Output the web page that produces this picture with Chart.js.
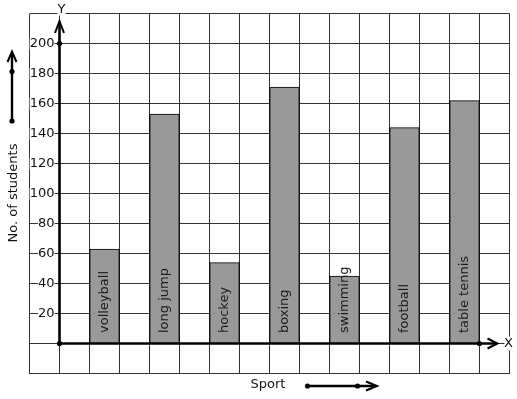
<!DOCTYPE html>
<html><head><meta charset="utf-8">
<script src="https://cdn.jsdelivr.net/npm/chart.js@4/dist/chart.umd.min.js"></script>
<style>html,body{margin:0;padding:0;background:#fff}#wrap{width:517px;height:399px;position:relative}</style>
</head><body><div id="wrap"><canvas id="c"></canvas></div>
<script>
const categories = ['volleyball', 'long jump', 'hockey', 'boxing', 'swimming', 'football', 'table tennis'];
const students = [63, 153, 54, 171, 45, 144, 162];
const yTickLabels = ['20', '40', '60', '80', '100', '120', '140', '160', '180', '200'];
const xAxisTitle = 'Sport';
const yAxisTitle = 'No. of students';
const xAxisName = 'X';
const yAxisName = 'Y';

const FONT = '13px "DejaVu Sans"';
Chart.defaults.font.family = '"DejaVu Sans"';

function labelWithBackdrop(ctx, text, x, y, align) {
  ctx.textAlign = align;
  ctx.textBaseline = 'middle';
  const w = ctx.measureText(text).width;
  let left = align === 'right' ? x - w : (align === 'center' ? x - w / 2 : x);
  ctx.fillStyle = '#fff';
  ctx.fillRect(left, y - 6, w, 12);
  ctx.fillStyle = '#111';
  ctx.fillText(text, x, y);
}

function dot(ctx, x, y) {
  ctx.beginPath(); ctx.arc(x, y, 2.6, 0, Math.PI * 2); ctx.fillStyle = '#000'; ctx.fill();
}

const decor = {
  id: 'decor',
  afterDatasetsDraw(chart) {
    const { ctx, scales: { x, y } } = chart;
    const x0 = x.getPixelForValue(0), y0 = y.getPixelForValue(0);
    ctx.save();
    ctx.font = FONT;
    // labels inside bars
    const meta = chart.getDatasetMeta(0);
    meta.data.forEach((bar, i) => {
      ctx.save();
      ctx.translate(bar.x, bar.base - 10);
      ctx.rotate(-Math.PI / 2);
      ctx.textAlign = 'left';
      ctx.textBaseline = 'middle';
      ctx.fillStyle = '#1a1a1a';
      ctx.fillText(categories[i], 0, 0);
      ctx.restore();
    });
    // y tick labels
    yTickLabels.forEach(t => {
      labelWithBackdrop(ctx, t, x0 - 5, y.getPixelForValue(Number(t)) + 0.5, 'right');
    });
    // axes lines
    const yTop = y.getPixelForValue(215);
    const xEnd = x.getPixelForValue(14.6);
    ctx.strokeStyle = '#000';
    ctx.lineWidth = 2.6;
    ctx.beginPath(); ctx.moveTo(x0, y0); ctx.lineTo(x0, yTop + 2); ctx.stroke();
    ctx.beginPath(); ctx.moveTo(x0, y0); ctx.lineTo(xEnd - 1, y0); ctx.stroke();
    ctx.lineWidth = 2;
    ctx.beginPath(); ctx.moveTo(x0 - 4.5, yTop + 12); ctx.lineTo(x0, yTop); ctx.lineTo(x0 + 4.5, yTop + 12); ctx.stroke();
    ctx.beginPath(); ctx.moveTo(xEnd - 10, y0 - 5); ctx.lineTo(xEnd, y0); ctx.lineTo(xEnd - 10, y0 + 5); ctx.stroke();
    dot(ctx, x0, y0);
    dot(ctx, x0, y.getPixelForValue(200));
    dot(ctx, x.getPixelForValue(14), y0);
    // axis names
    labelWithBackdrop(ctx, yAxisName, x0 + 2, 9.5, 'center');
    ctx.fillStyle = '#fff';
    ctx.fillRect(x.getPixelForValue(15) - 5, y0 - 7, 10, 14);
    ctx.fillStyle = '#111';
    ctx.textAlign = 'center'; ctx.textBaseline = 'middle';
    ctx.fillText(xAxisName, x.getPixelForValue(15) - 1, y0);
    // titles
    ctx.save();
    ctx.translate(17, 193);
    ctx.rotate(-Math.PI / 2);
    ctx.textAlign = 'center'; ctx.textBaseline = 'alphabetic';
    ctx.fillStyle = '#111';
    ctx.fillText(yAxisTitle, 0, 0);
    ctx.restore();
    ctx.textAlign = 'center'; ctx.textBaseline = 'middle';
    ctx.fillText(xAxisTitle, 268, 385);
    // side arrows
    ctx.strokeStyle = '#000'; ctx.lineWidth = 2.4;
    ctx.beginPath(); ctx.moveTo(12, 121); ctx.lineTo(12, 53); ctx.stroke();
    ctx.lineWidth = 2;
    ctx.beginPath(); ctx.moveTo(7.5, 62); ctx.lineTo(12, 51.5); ctx.lineTo(16.5, 62); ctx.stroke();
    dot(ctx, 12, 121); dot(ctx, 12, 71.5);
    ctx.lineWidth = 2.4;
    ctx.beginPath(); ctx.moveTo(307, 386); ctx.lineTo(375, 386); ctx.stroke();
    ctx.lineWidth = 2;
    ctx.beginPath(); ctx.moveTo(366, 381.5); ctx.lineTo(377, 386); ctx.lineTo(366, 390.5); ctx.stroke();
    dot(ctx, 307.5, 386); dot(ctx, 357.5, 386);
    ctx.restore();
  }
};

new Chart(document.getElementById('c'), {
  type: 'bar',
  data: {
    datasets: [{
      data: students.map((v, i) => ({ x: 1.5 + 2 * i, y: v })),
      backgroundColor: '#999999',
      borderColor: '#000',
      borderWidth: 1.2,
      borderSkipped: 'bottom',
      categoryPercentage: 1,
      barPercentage: 1
    }]
  },
  options: {
    responsive: true,
    maintainAspectRatio: false,
    animation: false,
    events: [],
    layout: { padding: { left: 29.5, right: 7.5, top: 13.5, bottom: 25.5 } },
    plugins: { legend: { display: false }, tooltip: { enabled: false } },
    scales: {
      x: {
        type: 'linear', min: -1, max: 15, offset: false,
        ticks: { display: false, stepSize: 1 },
        grid: { color: '#333', lineWidth: 1, drawTicks: false, offset: false },
        border: { display: false }
      },
      y: {
        type: 'linear', min: -20, max: 220,
        ticks: { display: false, stepSize: 20 },
        grid: { color: '#333', lineWidth: 1, drawTicks: false },
        border: { display: false }
      }
    }
  },
  plugins: [decor]
});
</script></body></html>
